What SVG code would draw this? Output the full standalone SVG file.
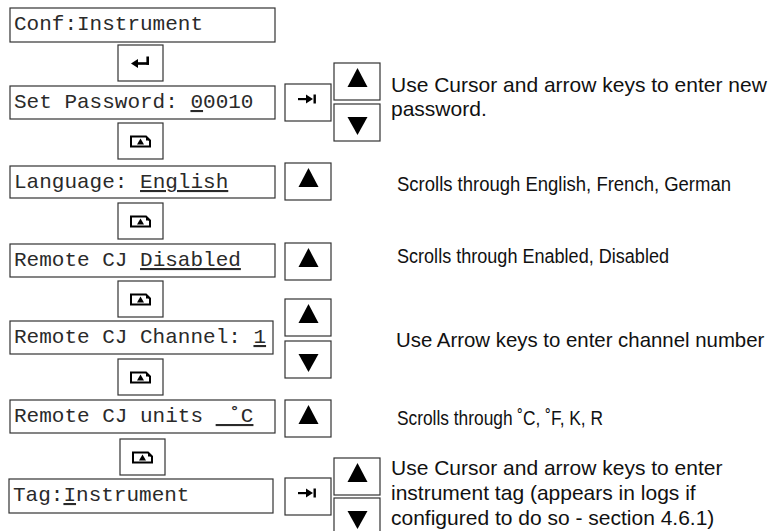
<svg xmlns="http://www.w3.org/2000/svg" xmlns:xlink="http://www.w3.org/1999/xlink" width="775" height="531" viewBox="0 0 775 531">
<style>
.box{fill:#fff;stroke:#333;stroke-width:1.2}
.mono{font-family:"Liberation Mono","Courier New",monospace;font-size:21px;fill:#2a2a2a}
.sans{font-family:"Liberation Sans",Arial,sans-serif;font-size:21px;fill:#111}
.sm{font-size:19.5px}
.ul{text-decoration:underline}
.ico{fill:#000}
</style>
<defs>
<g id="up"><rect class="box" x="0" y="0" width="46" height="37"/><polygon class="ico" points="23.5,5 33.5,24 13.5,24"/></g>
<g id="down"><rect class="box" x="0" y="0" width="46" height="37"/><polygon class="ico" points="13.5,13 33.5,13 23.5,31"/></g>
<g id="tab"><rect class="box" x="0" y="0" width="46" height="37"/><rect class="ico" x="13" y="14" width="10" height="2.2"/><polygon class="ico" points="21,10.5 28,15 21,19.5"/><rect class="ico" x="28.5" y="10.5" width="2.4" height="9"/></g>
<g id="enter"><rect class="box" x="0" y="0" width="45" height="36"/><polygon class="ico" points="13,18.5 20,14 20,23"/><rect class="ico" x="19" y="17.2" width="12" height="2.6"/><rect class="ico" x="28.4" y="11.5" width="2.6" height="8.3"/></g>
<g id="page"><rect class="box" x="0" y="0" width="45" height="36"/><path d="M13,13.5 H28 L32,17.5 V23.5 H13 Z" fill="none" stroke="#000" stroke-width="2"/><polygon class="ico" points="28,13.5 32,17.5 28,17.5"/><polygon class="ico" points="22.5,15.5 26,21.5 19,21.5"/></g>
</defs>

<g id="connectors"/>

<g id="n-conf"><rect class="box" x="10" y="8" width="265" height="34"/><text class="mono" x="14" y="30">Conf:Instrument</text></g>
<g id="k-enter"><use xlink:href="#enter" x="118" y="45"/></g>
<g id="n-password"><rect class="box" x="10" y="86" width="265" height="33"/><text class="mono" x="14" y="108">Set Password: <tspan class="ul">0</tspan>0010</text></g>
<g id="k-page1"><use xlink:href="#page" x="118" y="123"/></g>
<g id="n-language"><rect class="box" x="10" y="166" width="265" height="32"/><text class="mono" x="14" y="188">Language: <tspan class="ul">English</tspan></text></g>
<g id="k-page2"><use xlink:href="#page" x="118" y="203"/></g>
<g id="n-cj"><rect class="box" x="10" y="244" width="265" height="33"/><text class="mono" x="14" y="266">Remote CJ <tspan class="ul">Disabled</tspan></text></g>
<g id="k-page3"><use xlink:href="#page" x="118" y="281"/></g>
<g id="n-channel"><rect class="box" x="10" y="321" width="263" height="33"/><text class="mono" x="14" y="343">Remote CJ Channel: <tspan class="ul">1</tspan></text></g>
<g id="k-page4"><use xlink:href="#page" x="118" y="359"/></g>
<g id="n-units"><rect class="box" x="10" y="400" width="265" height="33"/><text class="mono" x="14" y="422" xml:space="preserve">Remote CJ units <tspan class="ul"> ˚C</tspan></text></g>
<g id="k-page5"><use xlink:href="#page" x="120" y="439"/></g>
<g id="n-tag"><rect class="box" x="9" y="479" width="264" height="34"/><text class="mono" x="13" y="501">Tag:<tspan class="ul">I</tspan>nstrument</text></g>

<g id="r-password">
<use xlink:href="#tab" x="285" y="84"/>
<use xlink:href="#up" x="334" y="63"/>
<use xlink:href="#down" x="334" y="104"/>
<text class="sans" x="391" y="92">Use Cursor and arrow keys to enter new</text>
<text class="sans" x="391" y="116">password.</text>
</g>
<g id="r-language">
<use xlink:href="#up" x="285" y="163"/>
<text class="sans sm" x="397" y="191" textLength="334" lengthAdjust="spacingAndGlyphs">Scrolls through English, French, German</text>
</g>
<g id="r-cj">
<use xlink:href="#up" x="285" y="243"/>
<text class="sans sm" x="397" y="263" textLength="272" lengthAdjust="spacingAndGlyphs">Scrolls through Enabled, Disabled</text>
</g>
<g id="r-channel">
<use xlink:href="#up" x="285" y="299"/>
<use xlink:href="#down" x="285" y="341"/>
<text class="sans" x="396" y="347" style="font-size:20.4px">Use Arrow keys to enter channel number</text>
</g>
<g id="r-units">
<use xlink:href="#up" x="285" y="400"/>
<text class="sans sm" x="397" y="425" textLength="206" lengthAdjust="spacingAndGlyphs">Scrolls through ˚C, ˚F, K, R</text>
</g>
<g id="r-tag">
<use xlink:href="#tab" x="285" y="478"/>
<use xlink:href="#up" x="334" y="458"/>
<use xlink:href="#down" x="334" y="498"/>
<text class="sans" x="391" y="475">Use Cursor and arrow keys to enter</text>
<text class="sans" x="391" y="500">instrument tag (appears in logs if</text>
<text class="sans" x="391" y="525">configured to do so - section 4.6.1)</text>
</g>
</svg>
